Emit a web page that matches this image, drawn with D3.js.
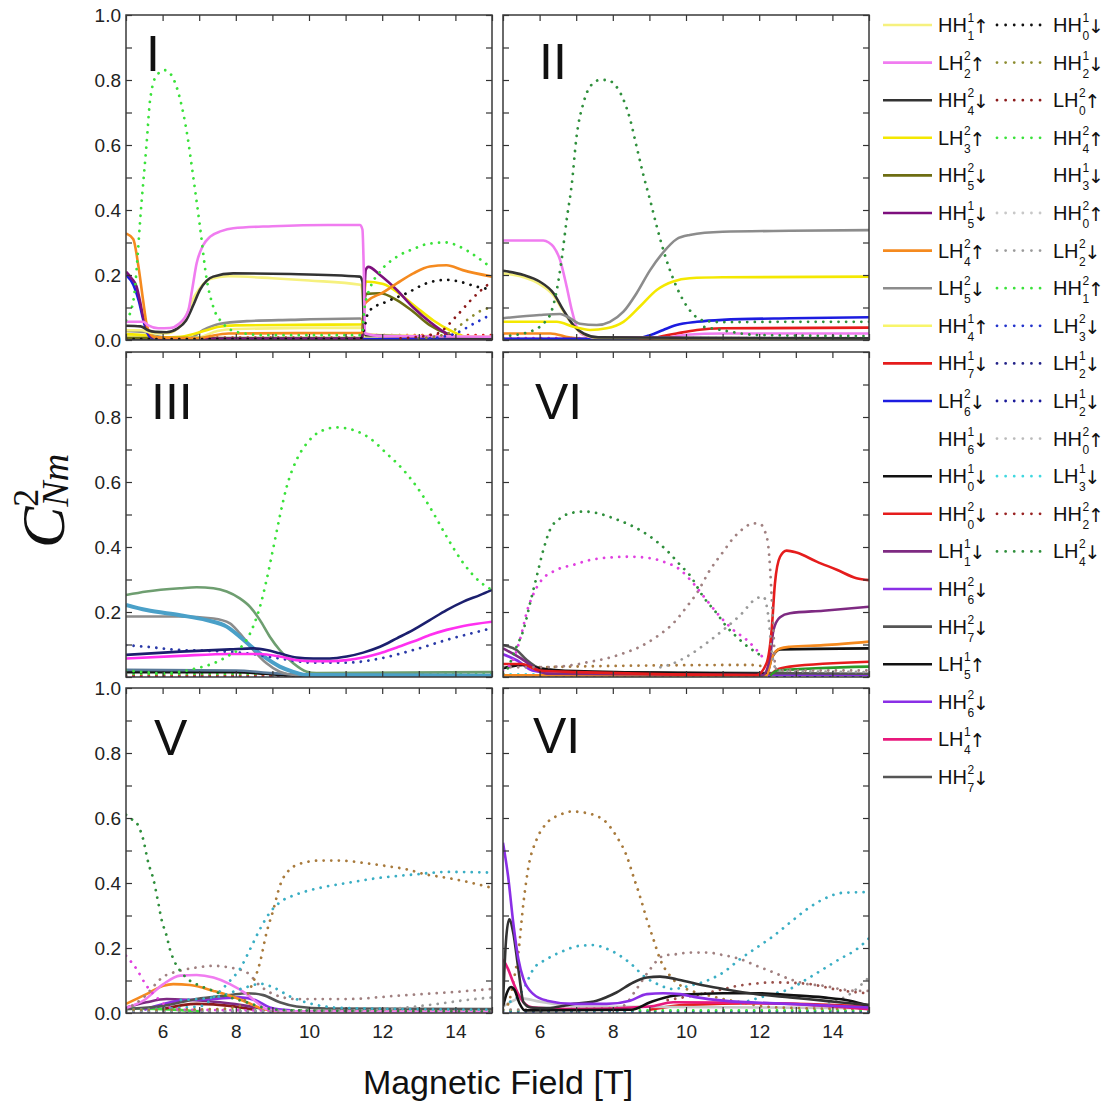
<!DOCTYPE html>
<html>
<head>
<meta charset="utf-8">
<script src="https://cdn.jsdelivr.net/npm/d3@7"></script>
<style>
	body { margin: 0; background: #fff; }
	svg text { font-family: Arial, 'Liberation Sans', sans-serif; }
</style>
</head>
<body>
<div id="app"></div>
<script>

// axes
var xDomain = [5, 15]
var yDomain = [0, 1]
var yLabelsFull = [0, 0.2, 0.4, 0.6, 0.8, 1.0]
var yLabelsMid = [0.2, 0.4, 0.6, 0.8]
var xLabels = [6, 8, 10, 12, 14]

// legend: [state, superscript, subscript, spin]
var legendSolid = [
	['HH', 1, 1, '↑'], ['LH', 2, 2, '↑'], ['HH', 2, 4, '↓'], ['LH', 2, 3, '↑'], ['HH', 2, 5, '↓'],
	['HH', 1, 5, '↓'], ['LH', 2, 4, '↑'], ['LH', 2, 5, '↓'], ['HH', 1, 4, '↑'], ['HH', 1, 7, '↓'],
	['LH', 2, 6, '↓'], ['HH', 1, 6, '↓'], ['HH', 1, 0, '↓'], ['HH', 2, 0, '↓'], ['LH', 1, 1, '↓'],
	['HH', 2, 6, '↓'], ['HH', 2, 7, '↓'], ['LH', 1, 5, '↑'], ['HH', 2, 6, '↓'], ['LH', 1, 4, '↑'],
	['HH', 2, 7, '↓']
]
var legendDotted = [
	['HH', 1, 0, '↓'], ['HH', 1, 2, '↓'], ['LH', 2, 0, '↑'], ['HH', 2, 4, '↑'], ['HH', 1, 3, '↓'],
	['HH', 2, 0, '↑'], ['LH', 2, 2, '↓'], ['HH', 2, 1, '↑'], ['LH', 2, 3, '↓'], ['LH', 1, 2, '↓'],
	['LH', 1, 2, '↓'], ['HH', 2, 0, '↑'], ['LH', 1, 3, '↓'], ['HH', 2, 2, '↑'], ['LH', 2, 4, '↓']
]

// panel I  [field T, C^2]
var I_bottomBlue = [[5, 0.003], [15, 0.003]]
var I_bottomRed = [[5, 0.007], [11.4, 0.007], [11.6, 0.015], [15, 0.015]]
var I_navy = [[5, 0.002], [11.45, 0.002], [11.55, 0.015], [13, 0.01], [15, 0.004]]
var I_blue = [[5, 0.2], [5.2, 0.17], [5.35, 0.12], [5.5, 0.05], [5.65, 0.01], [6, 0.003], [15, 0.003]]
var I_purple = [[5, 0.21], [5.15, 0.19], [5.29, 0.164], [5.4, 0.11], [5.47, 0.07], [5.56, 0.04], [5.7, 0.01], [6, 0.004], [11.45, 0.004], [11.5, 0.1], [11.55, 0.215], [11.62, 0.225], [11.94, 0.2], [12.4, 0.154], [12.85, 0.1], [13.3, 0.056], [13.76, 0.02], [14.2, 0.005], [15, 0.003]]
var I_orange = [[5, 0.328], [5.2, 0.31], [5.34, 0.226], [5.47, 0.12], [5.56, 0.05], [5.66, 0.02], [5.8, 0.008], [7.0, 0.005], [7.3, 0.012], [7.8, 0.02], [11.44, 0.022], [11.48, 0.04], [11.52, 0.11], [11.58, 0.118], [12.0, 0.145], [12.4, 0.174], [12.85, 0.205], [13.3, 0.226], [13.76, 0.23], [14.2, 0.215], [15, 0.195]]
var I_olive = [[5, 0.006], [11.45, 0.006], [11.5, 0.1], [11.56, 0.142], [11.94, 0.144], [12.4, 0.123], [12.85, 0.087], [13.3, 0.046], [13.76, 0.02], [14.2, 0.005], [15, 0.003]]
var I_yellow = [[5, 0.018], [5.5, 0.015], [6, 0.008], [6.5, 0.01], [7.2, 0.03], [7.5, 0.04], [8, 0.045], [11.44, 0.048], [11.5, 0.1], [11.55, 0.18], [12.03, 0.172], [12.5, 0.14], [12.94, 0.1], [13.4, 0.06], [13.85, 0.03], [14.3, 0.01], [15, 0.005]]
var I_paleYellow = [[5, 0.03], [5.4, 0.03], [5.7, 0.022], [6.1, 0.02], [6.5, 0.045], [6.9, 0.14], [7.3, 0.188], [7.8, 0.196], [9, 0.19], [10, 0.183], [11.4, 0.17], [11.46, 0.15], [11.52, 0.02], [12, 0.015], [15, 0.01]]
var I_paleYellow2 = [[5, 0.012], [6.5, 0.005], [7, 0.008], [7.5, 0.028], [8, 0.034], [11.44, 0.038], [11.5, 0.01], [15, 0.005]]
var I_gray = [[5, 0.028], [5.5, 0.025], [5.8, 0.012], [6.5, 0.003], [6.75, 0.005], [7.1, 0.03], [7.57, 0.05], [8.3, 0.058], [9.5, 0.062], [11.4, 0.066], [11.46, 0.06], [11.5, 0.005], [15, 0.003]]
var I_dark = [[5, 0.044], [5.4, 0.042], [5.6, 0.03], [5.8, 0.025], [6.11, 0.024], [6.4, 0.035], [6.64, 0.06], [6.85, 0.11], [7.02, 0.154], [7.2, 0.182], [7.38, 0.195], [7.93, 0.205], [9.5, 0.203], [11.39, 0.195], [11.46, 0.18], [11.5, 0.04], [11.55, 0.015], [13, 0.01], [15, 0.005]]
var I_violet = [[5, 0.056], [5.47, 0.056], [5.61, 0.045], [5.88, 0.036], [6.2, 0.037], [6.45, 0.05], [6.7, 0.09], [6.8, 0.15], [6.93, 0.236], [7.1, 0.29], [7.3, 0.318], [7.6, 0.335], [7.93, 0.344], [9, 0.35], [10.5, 0.354], [11.39, 0.354], [11.46, 0.34], [11.5, 0.2], [11.53, 0.02], [12, 0.012], [15, 0.01]]
var I_blackDot = [[5, 0.003], [11.4, 0.003], [11.5, 0.03], [11.6, 0.08], [11.67, 0.092], [12.12, 0.118], [12.67, 0.144], [13.2, 0.174], [13.76, 0.185], [14.1, 0.18], [14.58, 0.164], [15, 0.155]]
var I_darkRedDot = [[12.5, 0.005], [13.5, 0.02], [14, 0.07], [14.4, 0.12], [14.67, 0.15], [15, 0.18]]
var I_oliveDot = [[13, 0.005], [13.8, 0.02], [14.3, 0.06], [14.7, 0.09], [15, 0.1]]
var I_blueDot = [[13.3, 0.005], [14, 0.02], [14.5, 0.05], [15, 0.08]]
var I_green = [[5, 0.06], [5.2, 0.12], [5.43, 0.43], [5.56, 0.6], [5.66, 0.74], [5.84, 0.815], [6.07, 0.83], [6.29, 0.805], [6.48, 0.74], [6.66, 0.64], [6.84, 0.5], [7.02, 0.35], [7.2, 0.19], [7.39, 0.1], [7.66, 0.05], [8.02, 0.025], [8.75, 0.015], [11.44, 0.015], [11.52, 0.1], [11.67, 0.16], [11.94, 0.21], [12.4, 0.256], [12.85, 0.28], [13.3, 0.297], [13.76, 0.3], [14.12, 0.287], [14.58, 0.256], [15, 0.22]]

// panel II
var II_bottomBlue = [[5, 0.003], [15, 0.003]]
var II_bottomMag = [[5, 0.006], [15, 0.006]]
var II_orange = [[5, 0.02], [6.3, 0.02], [6.8, 0.008], [7.2, 0.003], [15, 0.003]]
var II_red = [[5, 0.003], [9, 0.003], [9.2, 0.008], [9.74, 0.02], [10.3, 0.031], [11, 0.036], [15, 0.038]]
var II_blue = [[5, 0.004], [8.6, 0.004], [9.02, 0.015], [9.38, 0.031], [9.74, 0.046], [10.3, 0.056], [11, 0.062], [12.84, 0.067], [15, 0.07]]
var II_violet = [[5, 0.306], [6.1, 0.306], [6.25, 0.3], [6.38, 0.287], [6.56, 0.246], [6.74, 0.164], [6.88, 0.092], [7.01, 0.041], [7.2, 0.015], [7.5, 0.008], [9.5, 0.008], [10, 0.016], [11, 0.02], [15, 0.02]]
var II_paleYellow = [[5, 0.205], [5.56, 0.193], [6, 0.172], [6.38, 0.137], [6.65, 0.088], [6.92, 0.044], [7.2, 0.018], [7.6, 0.006], [15, 0.004]]
var II_dark = [[5, 0.213], [5.56, 0.2], [6, 0.18], [6.38, 0.144], [6.65, 0.092], [6.92, 0.046], [7.2, 0.02], [7.6, 0.008], [15, 0.005]]
var II_gray = [[5, 0.067], [6, 0.077], [6.56, 0.08], [6.83, 0.067], [7.1, 0.05], [7.56, 0.046], [7.92, 0.056], [8.29, 0.087], [8.65, 0.144], [9.02, 0.215], [9.38, 0.27], [9.74, 0.31], [10.1, 0.323], [11, 0.333], [12.84, 0.336], [15, 0.338]]
var II_yellow = [[5, 0.056], [6.47, 0.056], [6.92, 0.041], [7.38, 0.031], [7.83, 0.036], [8.29, 0.056], [8.74, 0.103], [9.2, 0.154], [9.65, 0.18], [10.1, 0.19], [11, 0.193], [15, 0.195]]
var II_greenLow = [[10.5, 0.04], [11, 0.03], [11.5, 0.02], [12, 0.015], [15, 0.012]]
var II_green = [[5, 0.005], [5.1, 0.01], [5.56, 0.02], [5.83, 0.03], [6.1, 0.05], [6.33, 0.09], [6.47, 0.154], [6.6, 0.246], [6.74, 0.37], [6.88, 0.48], [7.01, 0.626], [7.2, 0.73], [7.38, 0.78], [7.65, 0.8], [7.83, 0.8], [8.06, 0.785], [8.29, 0.74], [8.47, 0.68], [8.65, 0.595], [8.83, 0.51], [9.02, 0.43], [9.2, 0.35], [9.38, 0.277], [9.56, 0.215], [9.74, 0.164], [10.1, 0.092], [10.47, 0.06], [11, 0.055], [12.84, 0.056], [15, 0.056]]

// panel III
var III_bottomRed = [[5, 0.005], [15, 0.005]]
var III_bottomBlue = [[5, 0.002], [15, 0.002]]
var III_bottomGreen = [[5, 0.009], [15, 0.009]]
var III_black = [[5, 0.015], [8, 0.015], [8.8, 0.01], [9.5, 0.005], [15, 0.004]]
var III_slate = [[5, 0.022], [8, 0.02], [9, 0.012], [10, 0.006], [15, 0.005]]
var III_seaGreen = [[5, 0.252], [5.56, 0.263], [6.48, 0.273], [6.93, 0.276], [7.39, 0.273], [7.75, 0.263], [8.11, 0.242], [8.39, 0.216], [8.66, 0.175], [8.93, 0.124], [9.2, 0.083], [9.57, 0.042], [9.94, 0.016], [10.2, 0.012], [15, 0.015]]
var III_gray = [[5, 0.186], [6.48, 0.186], [7.39, 0.18], [7.84, 0.165], [8.11, 0.134], [8.48, 0.083], [8.84, 0.042], [9.2, 0.016], [9.6, 0.006], [15, 0.004]]
var III_steel = [[5, 0.222], [5.56, 0.206], [6.48, 0.19], [7.2, 0.175], [7.75, 0.155], [8.11, 0.124], [8.48, 0.088], [8.84, 0.057], [9.2, 0.032], [9.57, 0.016], [9.94, 0.006], [15, 0.004]]
var III_navyDot = [[5, 0.098], [5.56, 0.093], [6.48, 0.083], [7.39, 0.08], [8.3, 0.073], [9.2, 0.057], [10.12, 0.044], [11.03, 0.044], [11.94, 0.057], [12.85, 0.083], [13.76, 0.114], [15, 0.15]]
var III_magenta = [[5, 0.057], [6.48, 0.065], [7.84, 0.071], [8.66, 0.071], [9.2, 0.063], [9.66, 0.052], [10.12, 0.049], [10.57, 0.049], [11.03, 0.052], [11.48, 0.06], [11.94, 0.073], [12.4, 0.091], [12.85, 0.109], [13.3, 0.129], [13.76, 0.145], [14.22, 0.157], [15, 0.17]]
var III_navy = [[5, 0.068], [6.48, 0.078], [7.84, 0.085], [8.48, 0.088], [8.84, 0.083], [9.2, 0.073], [9.66, 0.06], [10.12, 0.057], [10.57, 0.057], [11.03, 0.063], [11.48, 0.075], [11.94, 0.093], [12.4, 0.119], [12.85, 0.145], [13.3, 0.175], [13.76, 0.206], [14.22, 0.232], [14.67, 0.252], [15, 0.268]]
var III_green = [[5, 0.02], [5.5, 0.015], [6.02, 0.011], [6.93, 0.027], [7.39, 0.042], [7.84, 0.068], [8.11, 0.088], [8.39, 0.134], [8.66, 0.216], [8.84, 0.298], [9.03, 0.4], [9.2, 0.493], [9.39, 0.585], [9.66, 0.668], [9.94, 0.719], [10.3, 0.755], [10.76, 0.768], [11.21, 0.76], [11.67, 0.734], [12.12, 0.688], [12.58, 0.637], [12.94, 0.586], [13.4, 0.504], [13.76, 0.432], [14.22, 0.35], [14.67, 0.293], [15, 0.268]]

// panel VI (middle)
var VIa_bottomBlue = [[5, 0.003], [15, 0.003]]
var VIa_bottomCyan = [[5, 0.008], [15, 0.008]]
var VIa_brownDot = [[6, 0.03], [8, 0.034], [11.8, 0.037], [12.2, 0.03]]
var VIa_violet = [[5, 0.07], [5.4, 0.05], [5.8, 0.02], [6.5, 0.01], [15, 0.006]]
var VIa_dark = [[5, 0.098], [5.37, 0.083], [5.65, 0.052], [6, 0.027], [7, 0.015], [15, 0.01]]
var VIa_black = [[5, 0.027], [5.56, 0.037], [6, 0.027], [7, 0.018], [10, 0.012], [12.2, 0.01], [12.35, 0.06], [12.57, 0.085], [15, 0.088]]
var VIa_orange = [[5, 0.005], [12.2, 0.005], [12.35, 0.06], [12.57, 0.088], [12.84, 0.093], [13.75, 0.098], [15, 0.109]]
var VIa_red2 = [[12.3, 0.005], [12.48, 0.022], [12.84, 0.032], [15, 0.047]]
var VIa_green = [[12.3, 0.004], [12.5, 0.02], [15, 0.032]]
var VIa_purple = [[5, 0.088], [5.56, 0.052], [5.9, 0.025], [6.2, 0.01], [12.1, 0.006], [12.3, 0.063], [12.39, 0.145], [12.57, 0.184], [12.84, 0.196], [13.75, 0.204], [15, 0.216]]
var VIa_red = [[5, 0.04], [5.5, 0.04], [6, 0.02], [7, 0.015], [11.93, 0.006], [12.2, 0.042], [12.34, 0.145], [12.43, 0.288], [12.57, 0.37], [12.75, 0.389], [13.02, 0.383], [13.57, 0.355], [14.12, 0.33], [14.66, 0.304], [15, 0.298]]
var VIa_grayDot = [[9.3, 0.03], [9.65, 0.042], [10.1, 0.068], [10.56, 0.104], [11.02, 0.145], [11.48, 0.19], [11.93, 0.242], [12.11, 0.247], [12.25, 0.186], [12.34, 0.083], [12.4, 0.04], [12.5, 0.02], [15, 0.015]]
var VIa_rosyDot = [[5, 0.03], [6, 0.03], [6.92, 0.037], [7.38, 0.047], [7.83, 0.057], [8.29, 0.073], [8.74, 0.093], [9.2, 0.124], [9.65, 0.165], [10.02, 0.216], [10.29, 0.257], [10.66, 0.33], [11.02, 0.386], [11.29, 0.427], [11.57, 0.457], [11.84, 0.473], [12.02, 0.471], [12.16, 0.447], [12.25, 0.401], [12.3, 0.33], [12.34, 0.247], [12.39, 0.145], [12.43, 0.04], [12.5, 0.02], [15, 0.02]]
var VIa_magentaDot = [[5, 0.02], [5.3, 0.06], [5.5, 0.13], [5.65, 0.2], [5.85, 0.26], [6, 0.29], [6.47, 0.33], [6.92, 0.345], [7.38, 0.36], [7.83, 0.367], [8.47, 0.37], [8.93, 0.367], [9.38, 0.355], [9.84, 0.33], [10.2, 0.288], [10.56, 0.237], [10.93, 0.186], [11.29, 0.145], [11.66, 0.114], [11.93, 0.083], [12.1, 0.06]]
var VIa_greenDot = [[5, 0.01], [5.1, 0.02], [5.19, 0.042], [5.37, 0.093], [5.56, 0.145], [5.74, 0.227], [5.92, 0.309], [6.1, 0.39], [6.28, 0.452], [6.56, 0.488], [6.92, 0.506], [7.24, 0.509], [7.65, 0.502], [8.1, 0.485], [8.56, 0.463], [9.02, 0.432], [9.47, 0.39], [9.88, 0.34], [10.1, 0.314], [10.47, 0.247], [10.84, 0.196], [11.11, 0.155], [11.38, 0.124], [11.75, 0.088], [11.93, 0.075], [12.1, 0.06]]

// panel V
var V_bottomBlue = [[5, 0.004], [15, 0.004]]
var V_bottomGreen = [[5, 0.008], [15, 0.008]]
var V_green = [[5, 0.015], [6, 0.012], [7, 0.005]]
var V_darkRed = [[6, 0.012], [6.93, 0.028], [7.84, 0.022], [8.5, 0.01]]
var V_purple = [[5, 0.017], [5.56, 0.033], [6.11, 0.043], [6.75, 0.04], [7.57, 0.033], [8.3, 0.022], [8.8, 0.01]]
var V_violet2 = [[5.5, 0.01], [6.48, 0.038], [7.39, 0.043], [8.11, 0.048], [8.57, 0.038], [8.93, 0.017], [9.5, 0.008]]
var V_dark = [[5, 0.012], [6.02, 0.022], [6.93, 0.043], [7.84, 0.055], [8.3, 0.061], [8.75, 0.055], [9.2, 0.033], [9.66, 0.02], [10.5, 0.014], [15, 0.012]]
var V_orange = [[5, 0.028], [5.56, 0.058], [6.02, 0.084], [6.29, 0.089], [6.75, 0.086], [7.39, 0.068], [7.84, 0.053], [8.3, 0.033], [8.75, 0.012], [9.2, 0.005], [15, 0.004]]
var V_violet = [[5, 0.015], [5.5, 0.04], [6.02, 0.089], [6.48, 0.115], [6.93, 0.117], [7.39, 0.109], [7.84, 0.089], [8.3, 0.058], [8.57, 0.033], [8.84, 0.012], [9.3, 0.005], [15, 0.004]]
var V_magentaDot = [[5, 0.176], [5.29, 0.135], [5.56, 0.084], [5.84, 0.048], [6.11, 0.022], [6.5, 0.01], [15, 0.005]]
var V_grayDot = [[5, 0.005], [11.5, 0.008], [12.5, 0.015], [13.5, 0.028], [14.3, 0.04], [15, 0.048]]
var V_rosyDot = [[5, 0.01], [5.5, 0.05], [6, 0.11], [6.48, 0.13], [6.93, 0.14], [7.39, 0.145], [7.84, 0.14], [8.3, 0.125], [8.66, 0.084], [9.03, 0.058], [9.66, 0.043], [11.03, 0.043], [12.4, 0.053], [13.76, 0.063], [15, 0.074]]
var V_tealDot2 = [[6.5, 0.04], [7.5, 0.05], [8.3, 0.08], [8.7, 0.09], [9.0, 0.08], [9.5, 0.05], [10, 0.03], [11, 0.015], [15, 0.01]]
var V_tealDot = [[5, 0.01], [7, 0.02], [7.5, 0.06], [7.84, 0.099], [8.11, 0.135], [8.39, 0.196], [8.66, 0.258], [8.93, 0.309], [9.2, 0.34], [9.66, 0.365], [10.3, 0.385], [11.03, 0.4], [11.94, 0.416], [12.85, 0.426], [13.76, 0.434], [15, 0.432]]
var V_brownDot = [[5, 0.01], [7.5, 0.012], [8.11, 0.022], [8.39, 0.074], [8.66, 0.155], [8.84, 0.247], [9.03, 0.319], [9.2, 0.39], [9.48, 0.442], [9.84, 0.462], [10.3, 0.469], [10.85, 0.469], [11.48, 0.462], [12.12, 0.452], [12.67, 0.442], [13.21, 0.426], [13.76, 0.416], [14.22, 0.406], [15, 0.385]]
var V_greenDot = [[5, 0.61], [5.1, 0.6], [5.29, 0.585], [5.47, 0.534], [5.61, 0.462], [5.75, 0.411], [5.88, 0.34], [5.97, 0.288], [6.11, 0.237], [6.2, 0.196], [6.34, 0.155], [6.48, 0.13], [6.75, 0.099], [7.02, 0.084], [7.39, 0.068], [7.84, 0.048], [8.3, 0.033], [8.75, 0.017], [9.5, 0.008], [15, 0.005]]

// panel VI (bottom)
var VIb_bottomBlue = [[5, 0.004], [15, 0.004]]
var VIb_bottomGreen = [[5, 0.008], [15, 0.008]]
var VIb_red = [[9, 0.01], [10, 0.025], [12, 0.03], [15, 0.02]]
var VIb_lightGray = [[5, 0.02], [5.5, 0.045], [6, 0.035], [7, 0.02], [15, 0.015]]
var VIb_pink = [[5, 0.166], [5.14, 0.135], [5.28, 0.094], [5.42, 0.058], [5.56, 0.033], [5.83, 0.017], [7, 0.012], [9, 0.02], [9.65, 0.033], [11, 0.032], [12.84, 0.028], [15, 0.012]]
var VIb_black = [[5, 0.02], [5.1, 0.06], [5.22, 0.08], [5.32, 0.07], [5.45, 0.03], [5.6, 0.008], [8.5, 0.01], [9.02, 0.033], [9.65, 0.053], [10.29, 0.058], [11.02, 0.061], [11.93, 0.061], [12.84, 0.055], [13.75, 0.048], [14.48, 0.038], [15, 0.022]]
var VIb_dark = [[5, 0.03], [5.08, 0.22], [5.17, 0.288], [5.28, 0.247], [5.42, 0.135], [5.56, 0.033], [5.75, 0.017], [6.2, 0.015], [6.92, 0.028], [7.56, 0.038], [8.1, 0.063], [8.56, 0.094], [8.93, 0.109], [9.29, 0.112], [9.74, 0.104], [10.3, 0.089], [11.02, 0.074], [11.93, 0.058], [12.84, 0.048], [13.75, 0.038], [14.66, 0.028], [15, 0.025]]
var VIb_violet = [[5, 0.524], [5.14, 0.42], [5.28, 0.278], [5.42, 0.166], [5.56, 0.104], [5.83, 0.058], [6.2, 0.038], [6.92, 0.028], [7.83, 0.028], [8.47, 0.038], [8.93, 0.058], [9.38, 0.061], [9.84, 0.058], [10.3, 0.048], [11.02, 0.038], [12.84, 0.028], [15, 0.017]]
var VIb_grayDot = [[13.5, 0.02], [14.5, 0.06], [15, 0.11]]
var VIb_darkRedDot = [[9.5, 0.04], [10.5, 0.06], [11.5, 0.085], [12.4, 0.094], [13.3, 0.09], [14.2, 0.07], [15, 0.06]]
var VIb_rosyDot = [[5, 0.01], [8, 0.015], [8.29, 0.022], [8.65, 0.074], [9.02, 0.135], [9.38, 0.176], [9.74, 0.181], [10.1, 0.186], [10.56, 0.186], [11.02, 0.178], [11.48, 0.166], [11.93, 0.145], [12.39, 0.125], [12.84, 0.104], [13.3, 0.089], [13.75, 0.084], [14.2, 0.074], [14.66, 0.068], [15, 0.068]]
var VIb_tealDot2 = [[11.5, 0.03], [12.4, 0.06], [12.84, 0.074], [13.3, 0.104], [13.75, 0.135], [14.2, 0.166], [14.66, 0.196], [15, 0.23]]
var VIb_tealDot = [[5, 0.03], [5.3, 0.04], [5.56, 0.074], [5.83, 0.135], [6.2, 0.166], [6.65, 0.191], [7.1, 0.207], [7.47, 0.209], [7.83, 0.198], [8.2, 0.176], [8.56, 0.145], [8.83, 0.115], [9.2, 0.09], [9.65, 0.074], [10.1, 0.084], [10.56, 0.099], [11.02, 0.125], [11.48, 0.166], [11.93, 0.201], [12.39, 0.237], [12.84, 0.278], [13.3, 0.319], [13.75, 0.35], [14.3, 0.37], [15, 0.372]]
var VIb_brownDot = [[5, 0.01], [5.15, 0.03], [5.28, 0.094], [5.42, 0.186], [5.56, 0.34], [5.7, 0.452], [5.92, 0.534], [6.2, 0.585], [6.56, 0.61], [6.88, 0.62], [7.19, 0.617], [7.47, 0.61], [7.79, 0.59], [8.1, 0.544], [8.38, 0.483], [8.56, 0.421], [8.74, 0.36], [8.93, 0.288], [9.11, 0.227], [9.29, 0.166], [9.56, 0.115], [9.93, 0.079], [10.29, 0.063], [10.66, 0.053], [11.02, 0.043], [11.5, 0.033], [12, 0.022], [13, 0.015], [15, 0.012]]

/****************************************
 *
 * styles
 *
 ****************************************/

var C = {
	green: '#3ae23a', dkGreen: '#2f8f3c', violet: '#f07cf0', dark: '#333333', yellow: '#f4e800',
	paleYellow: '#f6f17e', olive: '#6d6d12', purple: '#7d0f7d', orange: '#f58a1f', gray: '#8c8c8c',
	red: '#e51c1c', blue: '#1c1ce0', black: '#111111', purple2: '#7e2a82', violet2: '#8a2fe6',
	gray2: '#555555', pink: '#e8187c', seaGreen: '#6e9e70', steel: '#4aa0c8', navy: '#1b1f6e',
	magenta: '#ff30f0', navyDot: '#2a3aa8', magDot: '#e040e0', rosyDot: '#a08080', grayDot: '#9a9a9a',
	brownDot: '#a87a3c', tealDot: '#3aaec4', darkRed: '#8b1a1a', oliveDot: '#8c8c30', slate: '#5a7a9a',
	lightGray: '#c8c8c8', cyan: '#40d8e0'
}

var legendSolidColors = [C.paleYellow, C.violet, C.dark, C.yellow, C.olive, C.purple, C.orange, C.gray,
	'#f8f56a', C.red, C.blue, null, C.black, C.red, C.purple2, C.violet2, C.gray2, C.black, C.violet2, C.pink, C.gray2]
var legendDottedColors = [C.black, C.oliveDot, C.darkRed, C.green, null, C.lightGray, C.grayDot, C.green,
	'#2233cc', '#222288', '#1a1a99', '#bbbbbb', C.cyan, '#992222', C.dkGreen]

// [data, colour, kind]  s = solid, t = thick solid, d = dotted
var panels = [
	{ name: 'I', col: 0, row: 0, lx: 20, ly: 56, series: [
		[I_bottomBlue, C.blue, 'd'], [I_bottomRed, C.red, 'd'], [I_navy, C.navy, 's'], [I_gray, C.gray, 's'],
		[I_paleYellow2, C.paleYellow, 's'], [I_yellow, C.yellow, 's'], [I_olive, C.olive, 's'], [I_blue, C.blue, 's'],
		[I_purple, C.purple, 's'], [I_orange, C.orange, 's'], [I_paleYellow, C.paleYellow, 's'], [I_dark, C.dark, 's'],
		[I_violet, C.violet, 's'], [I_blackDot, C.black, 'd'], [I_darkRedDot, C.darkRed, 'd'], [I_oliveDot, C.oliveDot, 'd'],
		[I_blueDot, '#2233cc', 'd'], [I_green, C.green, 'd']
	] },
	{ name: 'II', col: 1, row: 0, lx: 36, ly: 64, series: [
		[II_bottomBlue, C.blue, 'd'], [II_bottomMag, C.magDot, 'd'], [II_orange, C.orange, 's'], [II_red, C.red, 's'],
		[II_blue, C.blue, 's'], [II_violet, C.violet, 's'], [II_paleYellow, C.paleYellow, 's'], [II_dark, C.dark, 's'],
		[II_gray, C.gray, 's'], [II_yellow, C.yellow, 's'], [II_greenLow, C.dkGreen, 'd'], [II_green, C.dkGreen, 'd']
	] },
	{ name: 'III', col: 0, row: 1, lx: 25, ly: 67, series: [
		[III_bottomBlue, C.blue, 'd'], [III_bottomRed, C.red, 'd'], [III_bottomGreen, C.green, 'd'], [III_black, C.black, 's'],
		[III_slate, C.slate, 's'], [III_seaGreen, C.seaGreen, 's'], [III_gray, C.gray, 's'], [III_steel, C.steel, 't'],
		[III_navyDot, C.navyDot, 'd'], [III_magenta, C.magenta, 's'], [III_navy, C.navy, 's'], [III_green, C.green, 'd']
	] },
	{ name: 'VI', col: 1, row: 1, lx: 32, ly: 67, series: [
		[VIa_bottomBlue, C.blue, 'd'], [VIa_bottomCyan, C.cyan, 'd'], [VIa_brownDot, C.brownDot, 'd'], [VIa_violet, C.violet2, 's'],
		[VIa_dark, C.gray2, 's'], [VIa_black, C.black, 's'], [VIa_orange, C.orange, 's'], [VIa_red2, C.red, 's'],
		[VIa_green, '#2a9a2a', 's'], [VIa_purple, C.purple2, 's'], [VIa_red, C.red, 's'], [VIa_grayDot, C.grayDot, 'd'],
		[VIa_rosyDot, C.rosyDot, 'd'], [VIa_magentaDot, C.magDot, 'd'], [VIa_greenDot, C.dkGreen, 'd']
	] },
	{ name: 'V', col: 0, row: 2, lx: 28, ly: 67, series: [
		[V_bottomBlue, C.blue, 'd'], [V_bottomGreen, C.green, 'd'], [V_green, C.green, 's'], [V_darkRed, C.darkRed, 's'],
		[V_purple, C.purple2, 's'], [V_violet2, C.violet2, 's'], [V_dark, C.gray2, 's'], [V_orange, C.orange, 's'],
		[V_violet, C.violet, 's'], [V_magentaDot, C.magDot, 'd'], [V_grayDot, C.grayDot, 'd'], [V_rosyDot, C.rosyDot, 'd'],
		[V_tealDot2, C.tealDot, 'd'], [V_tealDot, C.tealDot, 'd'], [V_brownDot, C.brownDot, 'd'], [V_greenDot, C.dkGreen, 'd']
	] },
	{ name: 'VI', col: 1, row: 2, lx: 30, ly: 65, series: [
		[VIb_bottomBlue, C.blue, 'd'], [VIb_bottomGreen, C.green, 'd'], [VIb_red, C.red, 's'], [VIb_lightGray, C.lightGray, 's'],
		[VIb_grayDot, C.grayDot, 'd'], [VIb_darkRedDot, '#99504a', 'd'], [VIb_rosyDot, C.rosyDot, 'd'], [VIb_tealDot2, C.tealDot, 'd'],
		[VIb_tealDot, C.tealDot, 'd'], [VIb_brownDot, C.brownDot, 'd'], [VIb_pink, C.pink, 's'], [VIb_black, C.black, 's'],
		[VIb_dark, C.dark, 's'], [VIb_violet, C.violet2, 's']
	] }
]

/****************************************
 *
 * layout and drawing
 *
 ****************************************/

var width = 1114
var height = 1108
var colX = [126, 503]
var rowY = [15, 352, 688]
var pw = 366
var ph = 325

var svg = d3.select('#app').append('svg')
	.attr('width', width)
	.attr('height', height)
	.attr('viewBox', '0 0 ' + width + ' ' + height)

var x = d3.scaleLinear().domain(xDomain).range([0, pw])
var y = d3.scaleLinear().domain(yDomain).range([ph, 0])

var line = d3.line()
	.x(function(d) { return x(d[0]) })
	.y(function(d) { return y(d[1]) })
	.curve(d3.curveMonotoneX)

function styleTicks(g) {
	g.select('.domain').remove()
	g.selectAll('.tick line').attr('stroke', '#333').attr('stroke-width', 1.2)
}

panels.forEach(function(p, i) {

	var g = svg.append('g')
		.attr('transform', 'translate(' + colX[p.col] + ',' + rowY[p.row] + ')')

	g.append('clipPath').attr('id', 'clip' + i)
		.append('rect').attr('width', pw).attr('height', ph)

	var lines = g.append('g').attr('clip-path', 'url(#clip' + i + ')')

	p.series.forEach(function(s) {
		var path = lines.append('path')
			.attr('d', line(s[0]))
			.attr('fill', 'none')
			.attr('stroke', s[1])
		if (s[2] === 'd') {
			path.attr('stroke-width', 2.8)
				.attr('stroke-dasharray', '0.01 7.6')
				.attr('stroke-linecap', 'round')
		} else {
			path.attr('stroke-width', s[2] === 't' ? 4 : 2.6)
				.attr('stroke-linejoin', 'round')
		}
	})

	// inward ticks on all four sides
	var xt = d3.range(5, 16, 1)
	var yt = d3.range(0, 1.01, 0.1)
	g.append('g').call(d3.axisTop(x).tickValues(xt).tickSize(-6).tickFormat('')).call(styleTicks)
	g.append('g').attr('transform', 'translate(0,' + ph + ')')
		.call(d3.axisBottom(x).tickValues(xt).tickSize(-6).tickFormat('')).call(styleTicks)
	g.append('g').call(d3.axisLeft(y).tickValues(yt).tickSize(-6).tickFormat('')).call(styleTicks)
	g.append('g').attr('transform', 'translate(' + pw + ',0)')
		.call(d3.axisRight(y).tickValues(yt).tickSize(-6).tickFormat('')).call(styleTicks)

	g.append('rect')
		.attr('width', pw).attr('height', ph)
		.attr('fill', 'none').attr('stroke', '#3a3a3a').attr('stroke-width', 1.5)

	if (p.col === 0) {
		var ya = g.append('g').call(d3.axisLeft(y)
			.tickValues(p.row === 1 ? yLabelsMid : yLabelsFull)
			.tickSize(0).tickPadding(5)
			.tickFormat(d3.format('.1f')))
		ya.select('.domain').remove()
		ya.selectAll('text').attr('font-size', 19).attr('fill', '#222')
			.attr('font-family', 'Arial, Liberation Sans, sans-serif')
	}
	if (p.row === 2) {
		var xa = g.append('g').attr('transform', 'translate(0,' + ph + ')')
			.call(d3.axisBottom(x).tickValues(xLabels).tickSize(0).tickPadding(12).tickFormat(d3.format('d')))
		xa.select('.domain').remove()
		xa.selectAll('text').attr('font-size', 19).attr('fill', '#222')
			.attr('font-family', 'Arial, Liberation Sans, sans-serif')
	}

	g.append('text')
		.attr('x', p.lx).attr('y', p.ly)
		.attr('font-size', 50)
		.attr('fill', '#111')
		.text(p.name)
})

// axis titles
svg.append('text')
	.attr('x', 498).attr('y', 1094)
	.attr('text-anchor', 'middle')
	.attr('font-size', 34)
	.attr('fill', '#111')
	.text('Magnetic Field [T]')

var yt = svg.append('text')
	.attr('transform', 'translate(64,501) rotate(-90)')
	.attr('text-anchor', 'middle')
	.style('font-family', "'Liberation Serif', 'DejaVu Serif', serif")
	.attr('font-size', 62)
	.attr('font-style', 'italic')
	.attr('fill', '#111')
yt.append('tspan').text('C')
yt.append('tspan').attr('font-style', 'normal').attr('font-size', 36).attr('dy', -26).text('2')
yt.append('tspan').attr('font-size', 38).attr('dx', -18).attr('dy', 30).text('Nm')

// legend
var legend = svg.append('g')
var rowStep = 37.6
var row0 = 25

function legendLabel(x0, yy, item) {
	var t = legend.append('text').attr('x', x0).attr('y', yy + 7).attr('font-size', 20).attr('fill', '#111').text(item[0])
	var w = t.node().getComputedTextLength()
	legend.append('text').attr('x', x0 + w + 0.5).attr('y', yy - 3).attr('font-size', 12).attr('fill', '#111').text(item[1])
	legend.append('text').attr('x', x0 + w + 0.5).attr('y', yy + 15).attr('font-size', 12).attr('fill', '#111').text(item[2])
	legend.append('text').attr('x', x0 + w + 6).attr('y', yy + 8).attr('font-size', 19)
		.style('font-family', "'DejaVu Sans', sans-serif").attr('fill', '#111').text(item[3])
}

legendSolid.forEach(function(item, i) {
	var yy = row0 + i * rowStep
	if (legendSolidColors[i]) {
		legend.append('line').attr('x1', 883).attr('x2', 932).attr('y1', yy).attr('y2', yy)
			.attr('stroke', legendSolidColors[i]).attr('stroke-width', 2.6)
	}
	legendLabel(938, yy, item)
})

legendDotted.forEach(function(item, i) {
	var yy = row0 + i * rowStep
	if (legendDottedColors[i]) {
		legend.append('line').attr('x1', 997).attr('x2', 1041).attr('y1', yy).attr('y2', yy)
			.attr('stroke', legendDottedColors[i]).attr('stroke-width', 2.8)
			.attr('stroke-dasharray', '0.01 8.6').attr('stroke-linecap', 'round')
	}
	legendLabel(1053, yy, item)
})

</script>
</body>
</html>
